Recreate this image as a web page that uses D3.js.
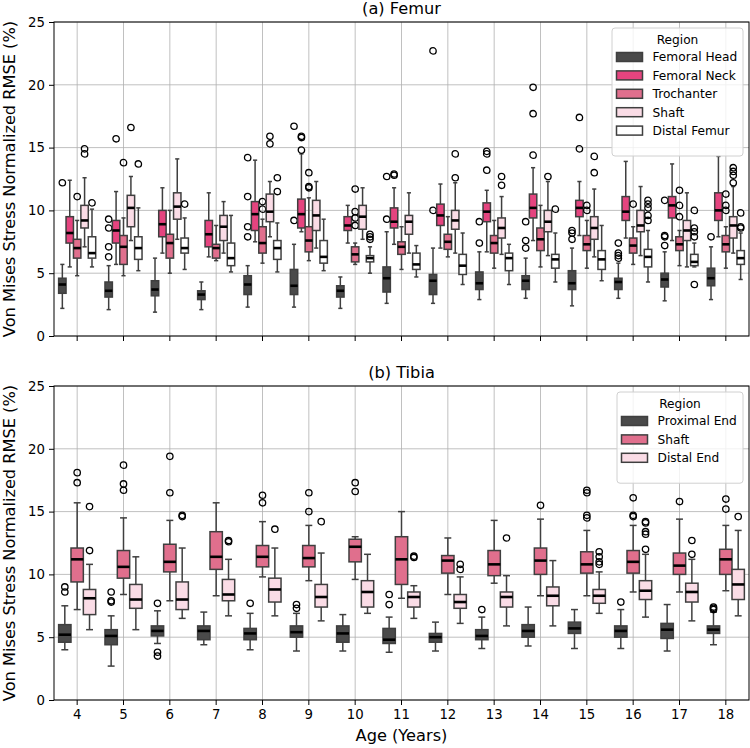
<!DOCTYPE html>
<html>
<head>
<meta charset="utf-8">
<script src="https://cdn.jsdelivr.net/npm/d3@7/dist/d3.min.js"></script>
<style>
  body { margin: 0; background: #fff; }
  svg text { font-family: "DejaVu Sans", sans-serif; fill: #000; }
</style>
</head>
<body>
<script>
const ages = [4, 5, 6, 7, 8, 9, 10, 11, 12, 13, 14, 15, 16, 17, 18];
const yTicks = [0, 5, 10, 15, 20, 25];

const femurRegions = ["Femoral Head", "Femoral Neck", "Trochanter", "Shaft", "Distal Femur"];
const tibiaRegions = ["Proximal End", "Shaft", "Distal End"];

// [lower whisker, q1, median, q3, upper whisker] per age
const femurHead = [
  [2.2, 3.4, 4.1, 4.6, 5.7], [2.1, 3.1, 3.6, 4.3, 5.6], [1.9, 3.2, 3.7, 4.4, 6.2],
  [2.1, 2.9, 3.3, 3.6, 4.3], [2.3, 3.3, 4.1, 4.8, 5.6], [2.3, 3.3, 4.0, 5.3, 7.3],
  [2.2, 3.1, 3.6, 4.0, 4.7], [2.6, 3.5, 4.6, 5.5, 8.3], [2.6, 3.3, 4.4, 4.9, 7.0],
  [2.9, 3.7, 4.2, 5.1, 6.7], [3.0, 3.7, 4.4, 4.8, 6.2], [2.4, 3.7, 4.2, 5.2, 7.0],
  [3.0, 3.7, 4.3, 4.6, 5.8], [2.8, 3.9, 4.5, 5.0, 6.7], [2.9, 4.0, 4.6, 5.4, 7.1]
];
const femurHeadOut = [
  [12.2], [6.3, 7.1, 8.6, 9.3], [], [], [7.9, 8.7, 11.1, 14.2], [9.2, 16.7], [],
  [9.3, 12.7], [10.0, 22.7], [7.4, 9.1], [7.0, 7.6, 9.1], [7.7, 8.2, 8.4],
  [6.2, 6.4, 6.6, 7.4], [7.2, 7.9, 8.0, 10.8], [7.9]
];

const femurNeck = [
  [5.5, 7.4, 8.2, 9.5, 12.4], [5.7, 7.4, 8.4, 9.2, 11.5], [6.6, 7.9, 8.9, 10.0, 11.8],
  [6.3, 7.1, 8.1, 9.2, 11.4], [7.5, 8.4, 9.7, 10.7, 14.0], [8.3, 8.6, 9.7, 10.9, 14.5],
  [7.4, 8.4, 8.8, 9.5, 10.4], [7.3, 8.6, 9.1, 10.2, 11.8], [7.0, 8.8, 9.6, 10.5, 12.1],
  [6.7, 9.1, 9.9, 10.6, 11.6], [7.6, 9.4, 10.2, 11.3, 13.4], [8.0, 9.5, 10.2, 10.8, 12.3],
  [7.8, 9.2, 9.9, 11.1, 13.9], [7.6, 9.4, 10.4, 11.1, 13.7], [7.9, 9.2, 10.0, 11.4, 14.3]
];
const femurNeckOut = [
  [], [15.7], [], [], [], [14.8, 15.8, 15.9], [], [12.8, 12.9], [],
  [13.2, 14.5, 14.7], [14.4, 17.7, 19.8], [14.9, 17.4], [], [], []
];

const femurTroch = [
  [4.8, 6.2, 7.0, 7.7, 9.2], [4.8, 5.7, 7.1, 8.0, 9.4], [5.0, 6.2, 7.4, 8.1, 10.0],
  [6.0, 6.2, 7.0, 7.3, 8.8], [5.8, 6.6, 7.4, 8.7, 9.3], [6.0, 6.7, 7.6, 8.7, 11.0],
  [5.7, 5.9, 6.5, 7.1, 7.4], [5.3, 6.5, 7.1, 7.5, 8.7], [6.3, 6.9, 7.5, 8.1, 9.5],
  [5.4, 6.6, 7.4, 8.0, 9.2], [5.5, 6.8, 7.7, 8.6, 10.4], [5.4, 6.8, 7.3, 8.0, 9.2],
  [5.7, 6.6, 7.2, 7.8, 8.7], [5.6, 6.8, 7.3, 7.9, 8.4], [5.4, 6.7, 7.3, 8.0, 8.7]
];
const femurTrochOut = [
  [11.1], [13.8], [], [], [10.1, 10.7], [11.8, 11.9, 13.0], [8.8, 9.4, 9.9, 11.7],
  [], [], [], [], [10.0, 10.4], [10.5], [9.5, 10.4, 11.6], [10.0, 10.4, 11.3]
];

const femurShaft = [
  [7.1, 8.6, 9.2, 10.4, 12.6], [7.6, 8.7, 10.2, 11.2, 12.7], [7.7, 9.3, 10.3, 11.4, 14.1],
  [6.6, 7.6, 8.7, 9.6, 10.7], [7.9, 9.1, 9.9, 11.3, 12.3], [7.0, 8.4, 9.6, 10.8, 12.3],
  [7.7, 8.5, 9.5, 10.4, 11.8], [6.6, 8.1, 9.1, 9.6, 11.4], [6.6, 8.5, 9.2, 10.0, 12.2],
  [6.5, 7.8, 8.6, 9.4, 11.1], [6.4, 8.3, 9.1, 10.0, 12.3], [6.3, 7.7, 8.6, 9.5, 11.7],
  [6.4, 8.3, 8.8, 10.0, 11.9], [5.5, 7.6, 8.4, 9.2, 11.4], [6.6, 7.8, 8.8, 9.5, 11.9]
];
const femurShaftOut = [
  [14.5, 14.9], [16.6], [], [], [15.3, 15.9], [], [], [], [12.6, 14.5],
  [12.0, 12.7], [12.7], [13.0, 14.3], [], [], [12.2, 12.8, 13.1, 13.4]
];

const femurDistal = [
  [5.5, 6.2, 6.6, 7.9, 10.1], [5.2, 6.1, 7.0, 7.9, 10.2], [5.3, 6.6, 7.0, 7.8, 9.4],
  [5.1, 5.6, 6.2, 7.4, 9.6], [5.1, 6.1, 7.0, 7.6, 9.0], [5.2, 5.8, 6.3, 7.6, 9.3],
  [5.0, 5.9, 6.2, 6.4, 7.1], [4.7, 5.3, 5.7, 6.6, 7.2], [4.1, 4.9, 5.6, 6.5, 8.2],
  [4.1, 5.2, 6.2, 6.6, 7.3], [4.3, 5.4, 6.1, 6.5, 8.2], [4.4, 5.3, 6.1, 6.8, 8.8],
  [4.3, 5.5, 6.3, 6.9, 8.4], [5.5, 5.6, 5.9, 6.5, 7.4], [4.5, 5.7, 6.2, 6.8, 8.2]
];
const femurDistalOut = [
  [10.6], [13.7], [10.5], [], [11.5, 12.6], [], [7.7, 7.9, 8.1], [], [], [], [10.1],
  [], [9.2, 9.6, 10.2, 10.5, 10.8], [4.1, 7.9, 8.3, 8.6, 10.0], [8.6, 8.7, 9.8]
];

const tibiaProx = [
  [4.0, 4.6, 5.2, 6.0, 7.5], [2.7, 4.4, 5.1, 5.6, 6.7], [4.5, 5.1, 5.5, 5.9, 7.1],
  [4.4, 4.8, 5.5, 5.9, 7.0], [4.0, 4.8, 5.3, 5.7, 6.9], [3.9, 5.0, 5.4, 5.9, 6.9],
  [3.9, 4.6, 5.3, 5.9, 6.8], [3.8, 4.5, 4.8, 5.7, 6.6], [3.9, 4.6, 5.0, 5.3, 6.2],
  [4.1, 4.8, 5.1, 5.6, 6.6], [4.3, 5.0, 5.5, 6.0, 7.4], [4.1, 5.3, 5.7, 6.2, 7.2],
  [4.1, 5.0, 5.5, 5.9, 7.2], [3.9, 4.9, 5.6, 6.1, 7.6], [4.4, 5.3, 5.6, 5.9, 7.0]
];
const tibiaProxOut = [
  [8.6, 9.0], [7.8, 7.9, 8.6], [3.5, 3.8, 7.7], [], [7.7], [7.3, 7.6], [],
  [7.6, 8.4], [], [7.2], [], [], [7.8], [], [7.2, 7.3, 7.4]
];

const tibiaShaft = [
  [7.2, 9.4, 11.2, 12.1, 15.7], [8.4, 9.7, 10.6, 11.9, 14.5], [7.9, 10.2, 11.0, 12.4, 14.3],
  [8.3, 10.4, 11.4, 13.4, 15.7], [9.8, 10.6, 11.4, 12.3, 14.2], [9.5, 10.6, 11.3, 12.3, 13.9],
  [9.6, 11.0, 12.2, 12.8, 13.0], [8.1, 9.2, 11.2, 13.0, 15.0], [8.4, 10.1, 11.1, 11.5, 12.9],
  [9.3, 9.9, 10.8, 11.9, 14.3], [8.3, 10.0, 11.1, 12.1, 14.4], [8.3, 10.1, 10.8, 11.8, 13.5],
  [8.6, 10.1, 11.0, 11.9, 13.9], [8.6, 10.0, 10.7, 11.7, 14.4], [8.7, 10.0, 11.2, 12.0, 13.9]
];
const tibiaShaftOut = [
  [17.3, 18.1], [16.7, 17.2, 18.7], [16.5, 19.4], [], [15.7, 16.3], [15.0, 16.5],
  [16.6, 17.3], [], [], [], [15.5], [14.5, 14.7, 16.5, 16.7], [14.6, 14.7, 16.1],
  [15.8], [15.2, 16.0]
];

const tibiaDistal = [
  [5.6, 6.8, 8.1, 8.8, 10.8], [5.6, 7.3, 8.0, 9.2, 11.4], [6.5, 7.2, 8.0, 9.4, 12.1],
  [6.7, 7.9, 8.4, 9.6, 11.2], [6.7, 7.8, 8.8, 9.7, 12.1], [6.3, 7.4, 8.2, 9.2, 11.7],
  [6.9, 7.4, 8.6, 9.5, 11.6], [6.5, 7.4, 8.2, 8.6, 9.1], [6.1, 7.3, 7.8, 8.4, 9.8],
  [5.9, 7.4, 8.2, 8.6, 9.9], [5.9, 7.5, 8.3, 9.0, 11.1], [6.9, 7.7, 8.3, 8.8, 10.2],
  [6.6, 8.0, 8.7, 9.5, 11.6], [6.3, 7.8, 8.6, 9.3, 11.2], [6.7, 8.0, 9.2, 10.4, 13.5]
];
const tibiaDistalOut = [
  [11.9, 15.4], [], [14.6, 14.7], [12.6, 12.7], [13.6], [14.2], [], [11.35, 11.45],
  [10.4, 10.8], [12.9], [], [10.8, 11.0, 11.4, 11.8], [12.0, 13.2, 13.4, 14.1, 14.2],
  [11.6, 12.7], [14.6]
];

const femurColors = ["#4a4a4a", "#e5447f", "#e06f8d", "#fadce6", "#ffffff"];
const tibiaColors = ["#4a4a4a", "#e06f8d", "#fadce6"];

const largura = 750;
const altura = 748;
const esq = 54, dir = 749;
const corLinha = "#3f3f3f";

var svg = d3.select("body")
            .append("svg")
            .attr("width", largura)
            .attr("height", altura);

var xEscala = d3.scaleBand()
                .domain(ages)
                .range([esq, dir])
                .padding(0);

function desenharPainel(p) {
  var yEscala = d3.scaleLinear()
                  .domain([0, 25])
                  .range([p.base, p.topo]);

  var g = svg.append("g");

  // grid
  g.append("g")
   .selectAll("line")
   .data(ages)
   .enter()
   .append("line")
   .attr("x1", function(d) { return xEscala(d) + xEscala.bandwidth() / 2; })
   .attr("x2", function(d) { return xEscala(d) + xEscala.bandwidth() / 2; })
   .attr("y1", p.topo)
   .attr("y2", p.base)
   .attr("stroke", "#b0b0b0")
   .attr("stroke-width", 0.8);

  g.append("g")
   .selectAll("line")
   .data(yTicks)
   .enter()
   .append("line")
   .attr("x1", esq)
   .attr("x2", dir)
   .attr("y1", function(d) { return yEscala(d); })
   .attr("y2", function(d) { return yEscala(d); })
   .attr("stroke", "#b0b0b0")
   .attr("stroke-width", 0.8);

  var hue = d3.scaleBand()
              .domain(p.regioes)
              .range([0, xEscala.bandwidth() * 0.8]);
  var bw = hue.bandwidth();

  p.series.forEach(function(s, i) {
    var dados = ages.map(function(a, j) {
      return { age: a, st: s.stats[j], out: s.out[j] };
    });

    var caixas = g.append("g")
                  .selectAll("g")
                  .data(dados)
                  .enter()
                  .append("g")
                  .attr("transform", function(d) {
                    return "translate(" + (xEscala(d.age) + xEscala.bandwidth() * 0.1 + hue(p.regioes[i])) + ",0)";
                  });

    // whiskers
    caixas.append("line")
          .attr("x1", bw / 2).attr("x2", bw / 2)
          .attr("y1", function(d) { return yEscala(d.st[0]); })
          .attr("y2", function(d) { return yEscala(d.st[1]); })
          .attr("stroke", corLinha).attr("stroke-width", 1.5);
    caixas.append("line")
          .attr("x1", bw / 2).attr("x2", bw / 2)
          .attr("y1", function(d) { return yEscala(d.st[3]); })
          .attr("y2", function(d) { return yEscala(d.st[4]); })
          .attr("stroke", corLinha).attr("stroke-width", 1.5);
    [0, 4].forEach(function(k) {
      caixas.append("line")
            .attr("x1", bw * 0.22).attr("x2", bw * 0.78)
            .attr("y1", function(d) { return yEscala(d.st[k]); })
            .attr("y2", function(d) { return yEscala(d.st[k]); })
            .attr("stroke", corLinha).attr("stroke-width", 1.5);
    });

    caixas.append("rect")
          .attr("x", 0)
          .attr("width", bw)
          .attr("y", function(d) { return yEscala(d.st[3]); })
          .attr("height", function(d) { return yEscala(d.st[1]) - yEscala(d.st[3]); })
          .attr("fill", s.cor)
          .attr("stroke", corLinha)
          .attr("stroke-width", 1.5);

    caixas.append("line")
          .attr("x1", 0).attr("x2", bw)
          .attr("y1", function(d) { return yEscala(d.st[2]); })
          .attr("y2", function(d) { return yEscala(d.st[2]); })
          .attr("stroke", "#000").attr("stroke-width", 2.6);

    caixas.selectAll("circle")
          .data(function(d) { return d.out; })
          .enter()
          .append("circle")
          .attr("cx", bw / 2)
          .attr("cy", function(d) { return yEscala(d); })
          .attr("r", 3.2)
          .attr("fill", "none")
          .attr("stroke", "#000")
          .attr("stroke-width", 1.3);
  });

  // axes
  var yEixo = d3.axisLeft(yEscala)
                .tickValues(yTicks)
                .tickSize(5)
                .tickPadding(4);
  var eixoY = g.append("g")
               .attr("transform", "translate(" + esq + ",0)")
               .call(yEixo);

  var xEixo = d3.axisBottom(xEscala)
                .tickSize(5)
                .tickPadding(5);
  var eixoX = g.append("g")
               .attr("transform", "translate(0," + p.base + ")")
               .call(xEixo);
  if (!p.rotulosX) eixoX.selectAll("text").remove();

  [eixoX, eixoY].forEach(function(e) {
    e.select(".domain").remove();
    e.selectAll("line").attr("stroke", "#000").attr("stroke-width", 1);
    e.selectAll("text")
     .style("font-family", "DejaVu Sans")
     .style("font-size", "13.3px")
     .attr("fill", "#000");
  });

  g.append("rect")
   .attr("x", esq)
   .attr("y", p.topo)
   .attr("width", dir - esq)
   .attr("height", p.base - p.topo)
   .attr("fill", "none")
   .attr("stroke", "#000")
   .attr("stroke-width", 1);

  g.append("text")
   .attr("x", (esq + dir) / 2)
   .attr("y", p.topo - 8)
   .attr("text-anchor", "middle")
   .style("font-size", "16.2px")
   .text(p.titulo);

  g.append("text")
   .attr("transform", "translate(14.5," + (p.topo + p.base) / 2 + ") rotate(-90)")
   .attr("text-anchor", "middle")
   .style("font-size", "16.2px")
   .text("Von Mises Stress Normalized RMSE (%)");

  // legend
  var lg = g.append("g")
            .attr("transform", "translate(" + (743 - p.legLarg) + "," + (p.topo + 6) + ")");
  var nL = p.regioes.length;
  lg.append("rect")
    .attr("width", p.legLarg)
    .attr("height", 40 + nL * 18.4 - 4)
    .attr("rx", 3)
    .attr("fill", "#fff")
    .attr("fill-opacity", 0.8)
    .attr("stroke", "#d0d0d0")
    .attr("stroke-width", 1);
  lg.append("text")
    .attr("x", p.legLarg / 2)
    .attr("y", 15.5)
    .attr("text-anchor", "middle")
    .style("font-size", "12.2px")
    .text("Region");
  var itens = lg.selectAll("g.item")
                .data(p.series)
                .enter()
                .append("g")
                .attr("class", "item")
                .attr("transform", function(d, i) { return "translate(0," + (29 + i * 18.4) + ")"; });
  itens.append("rect")
       .attr("x", 4.5)
       .attr("y", -4.5)
       .attr("width", 26)
       .attr("height", 9)
       .attr("fill", function(d) { return d.cor; })
       .attr("stroke", corLinha)
       .attr("stroke-width", 1.5);
  itens.append("text")
       .attr("x", 40.5)
       .attr("y", 4.4)
       .style("font-size", "12.2px")
       .text(function(d) { return d.nome; });
}

desenharPainel({
  topo: 22, base: 336, titulo: "(a) Femur", rotulosX: false, legLarg: 131,
  regioes: femurRegions,
  series: [
    { nome: femurRegions[0], cor: femurColors[0], stats: femurHead, out: femurHeadOut },
    { nome: femurRegions[1], cor: femurColors[1], stats: femurNeck, out: femurNeckOut },
    { nome: femurRegions[2], cor: femurColors[2], stats: femurTroch, out: femurTrochOut },
    { nome: femurRegions[3], cor: femurColors[3], stats: femurShaft, out: femurShaftOut },
    { nome: femurRegions[4], cor: femurColors[4], stats: femurDistal, out: femurDistalOut }
  ]
});

desenharPainel({
  topo: 386, base: 700, titulo: "(b) Tibia", rotulosX: true, legLarg: 126,
  regioes: tibiaRegions,
  series: [
    { nome: tibiaRegions[0], cor: tibiaColors[0], stats: tibiaProx, out: tibiaProxOut },
    { nome: tibiaRegions[1], cor: tibiaColors[1], stats: tibiaShaft, out: tibiaShaftOut },
    { nome: tibiaRegions[2], cor: tibiaColors[2], stats: tibiaDistal, out: tibiaDistalOut }
  ]
});

svg.append("text")
   .attr("x", (esq + dir) / 2)
   .attr("y", 741)
   .attr("text-anchor", "middle")
   .style("font-size", "16.2px")
   .text("Age (Years)");
</script>
</body>
</html>
